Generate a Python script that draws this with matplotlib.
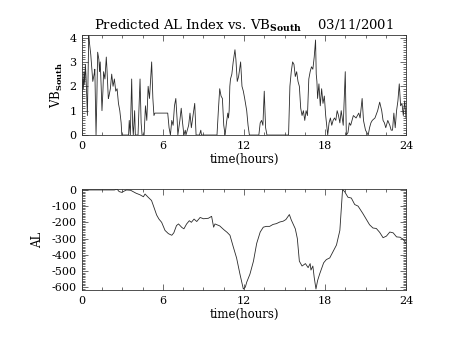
import numpy as np
import matplotlib
matplotlib.use('Agg')
import matplotlib.pyplot as plt
from matplotlib.ticker import MultipleLocator

plt.rcParams['font.family'] = 'DejaVu Serif'
plt.rcParams['mathtext.fontset'] = 'dejavuserif'

# VB_south (top panel), hours and values
vb_t = [0.0, 0.05, 0.1, 0.15, 0.2, 0.25, 0.3, 0.4, 0.5, 0.55, 0.65, 0.75, 0.8, 0.9, 0.95,
        1.0, 1.04, 1.1, 1.16, 1.25, 1.3, 1.35, 1.42, 1.48, 1.55, 1.6, 1.7, 1.8, 1.85, 1.95,
        2.0, 2.1, 2.2, 2.3, 2.4, 2.5, 2.6, 2.7, 2.8, 2.9, 2.95, 3.45, 3.5, 3.58, 3.68,
        3.75, 3.8, 3.9, 3.95, 4.15, 4.3, 4.38, 4.45, 4.6, 4.7, 4.8, 4.9, 5.0, 5.16, 5.25,
        5.33, 5.4, 6.35, 6.45, 6.55, 6.65, 6.75, 6.85, 6.95, 7.05, 7.1, 7.25, 7.35, 7.45,
        7.55, 7.65, 7.7, 7.9, 8.0, 8.1, 8.25, 8.35, 8.45, 8.7, 8.8, 8.85, 10.0, 10.1, 10.2,
        10.3, 10.4, 10.5, 10.6, 10.7, 10.8, 10.85, 10.9, 10.95, 11.0, 11.1, 11.2, 11.33,
        11.4, 11.5, 11.6, 11.75, 11.85, 11.95, 12.05, 12.2, 12.3, 12.4, 13.1, 13.2, 13.3,
        13.4, 13.5, 13.6, 13.7, 15.3, 15.4, 15.5, 15.6, 15.7, 15.8, 15.9, 16.0, 16.1, 16.2,
        16.3, 16.4, 16.5, 16.6, 16.7, 16.8, 16.9, 17.0, 17.1, 17.2, 17.3, 17.35, 17.4,
        17.45, 17.55, 17.65, 17.75, 17.85, 17.95, 18.05, 18.2, 18.3, 18.4, 18.5, 18.6,
        18.7, 18.8, 18.9, 19.0, 19.1, 19.2, 19.35, 19.5, 19.58, 19.7, 19.8, 19.9, 20.0,
        20.1, 20.3, 20.5, 20.6, 20.75, 20.85, 21.0, 21.2, 21.3, 21.4, 21.5, 21.7, 21.9,
        22.05, 22.2, 22.3, 22.4, 22.5, 22.65, 22.8, 22.9, 23.0, 23.1, 23.2, 23.3, 23.4,
        23.5, 23.6, 23.7, 23.8, 23.9, 24.0]
vb_v = [1.5, 2.3, 1.9, 2.6, 2.1, 2.9, 2.4, 0.8, 4.1, 3.8, 3.3, 2.6, 2.2, 2.5, 2.7,
        1.2, 0.0, 1.5, 3.4, 3.1, 2.6, 3.0, 2.0, 1.0, 1.8, 2.6, 2.3, 3.2, 2.7, 1.5,
        1.6, 1.9, 2.5, 2.0, 2.3, 1.8, 1.9, 1.3, 1.0, 0.5, 0.0, 0.0, 0.6, 0.0, 2.3,
        0.4, 0.0, 1.0, 0.0, 0.0, 2.3, 0.5, 0.0, 0.0, 1.2, 0.6, 2.0, 1.5, 3.0, 1.5,
        0.8, 0.9, 0.9, 0.3, 0.0, 0.6, 0.4, 1.2, 1.5, 0.6, 0.0, 0.6, 1.1, 0.5,
        0.0, 0.2, 0.0, 0.4, 0.9, 0.3, 0.9, 1.3, 0.0, 0.0, 0.2, 0.0, 0.0, 1.0, 1.9,
        1.6, 1.5, 0.4, 0.0, 0.5, 0.9, 0.7, 1.0, 2.0, 2.3, 2.5, 3.0, 3.5,
        3.1, 2.2, 2.4, 3.0, 2.0, 1.8, 1.5, 1.0, 0.4, 0.0, 0.0, 0.5, 0.6,
        0.4, 1.8, 0.3, 0.0, 0.0, 2.0, 2.6, 3.0, 2.9, 2.4, 2.6, 2.2, 2.0, 1.1,
        0.8, 1.0, 0.6, 1.0, 0.8, 2.3, 2.6, 2.8, 2.7, 3.2, 3.9, 2.5, 2.2,
        1.5, 2.1, 1.2, 1.9, 1.3, 1.6, 0.8, 0.0, 0.5, 0.7, 0.4, 0.6,
        0.7, 0.6, 1.0, 0.8, 0.5, 1.0, 0.4, 2.6, 0.0, 0.1, 0.5, 0.4, 0.6,
        0.8, 0.7, 0.9, 0.7, 1.5, 0.6, 0.2, 0.0, 0.3, 0.5, 0.6, 0.7, 1.0,
        1.35, 1.0, 0.6, 0.5, 0.3, 0.6, 0.4, 0.2, 0.2, 0.9, 0.3, 1.0, 1.4,
        2.1, 1.2, 1.3, 0.8, 1.4, 0.7]

# predicted AL index (bottom panel)
al_t = [0.0, 2.4, 2.6, 2.75, 2.95, 3.1, 3.3, 3.6, 4.0, 4.3, 4.55, 4.67, 4.9, 5.15, 5.3,
        5.53, 5.7, 5.9, 6.15, 6.4, 6.65, 6.8, 7.0, 7.15, 7.4, 7.55, 7.75, 7.95, 8.1, 8.3,
        8.5, 8.75, 9.0, 9.36, 9.6, 9.75, 9.85, 10.2, 10.5, 10.75, 10.96, 11.2, 11.45, 11.7,
        11.95, 12.1, 12.2, 12.44, 12.7, 12.94, 13.2, 13.43, 13.65, 13.9, 14.15, 14.4, 14.65,
        14.9, 15.1, 15.36, 15.5, 15.8, 15.95, 16.1, 16.3, 16.55, 16.75, 16.9, 16.96, 17.1,
        17.2, 17.33, 17.45, 17.6, 17.9, 18.1, 18.35, 18.6, 18.85, 19.1, 19.3, 19.45, 19.7,
        19.95, 20.2, 20.45, 20.8, 21.05, 21.3, 21.55, 21.8, 22.05, 22.3, 22.55, 22.8, 23.05,
        23.3, 23.55, 23.8, 24.0]
al_v = [0, 0, 5, -10, -15, -8, 0, -2, -20, -30, -42, -25, -45, -65, -100,
        -155, -180, -200, -250, -270, -280, -265, -220, -210, -232, -240, -210, -190, -200, -180,
        -195, -170, -178, -175, -163, -230, -210, -222, -245, -262, -280, -350, -420, -520,
        -612, -600, -570, -520, -440, -330, -260, -230, -225, -225, -213, -208, -198,
        -193, -183, -152, -185, -240, -300, -440, -470, -455, -480, -455, -495, -470,
        -540, -612, -560, -520, -450, -430, -420, -380, -340, -250, 2, -10, -45,
        -50, -90, -100, -145, -180, -215, -235, -238, -262, -295, -285, -260, -265,
        -290, -292, -305, -330]

fig = plt.figure(figsize=(4.54, 3.41), dpi=100)
ax1 = fig.add_axes([0.1806, 0.604, 0.7137, 0.293])
ax2 = fig.add_axes([0.1806, 0.1496, 0.7137, 0.2962])

line_kw = dict(color='#2a2a2a', linewidth=0.6)
ax1.plot(vb_t, vb_v, **line_kw)
ax2.plot(al_t, al_v, **line_kw)

ax1.set_ylim(0, 4.1)
ax1.yaxis.set_major_locator(MultipleLocator(1))
ax1.yaxis.set_minor_locator(MultipleLocator(0.1))
ax2.set_ylim(-618, 6)
ax2.yaxis.set_major_locator(MultipleLocator(100))
ax2.yaxis.set_minor_locator(MultipleLocator(10))
ax2.yaxis.set_major_formatter(plt.FuncFormatter(lambda v, p: '%d' % v))

for ax in (ax1, ax2):
    ax.set_xlim(0, 24)
    ax.xaxis.set_major_locator(MultipleLocator(6))
    ax.xaxis.set_minor_locator(MultipleLocator(1.5))
    ax.tick_params(which='both', direction='in', top=True, right=True,
                   labelsize=8, color='#333333', width=0.5, pad=4)
    ax.tick_params(which='major', length=4.5)
    ax.tick_params(which='minor', length=2.2)
    for s in ax.spines.values():
        s.set_linewidth(0.6)
        s.set_color('#333333')
    ax.set_xlabel('time(hours)', fontsize=8.5, labelpad=1.5)

ax1.set_ylabel(r'VB$_{\mathbf{South}}$', fontsize=8.5, labelpad=3)
ax2.set_ylabel('AL', fontsize=8.5, labelpad=5)
ax1.set_title(r'Predicted AL Index vs. VB$_{\mathbf{South}}$    03/11/2001',
              fontsize=9.5, pad=4)

fig.savefig('out.png', dpi=100)
